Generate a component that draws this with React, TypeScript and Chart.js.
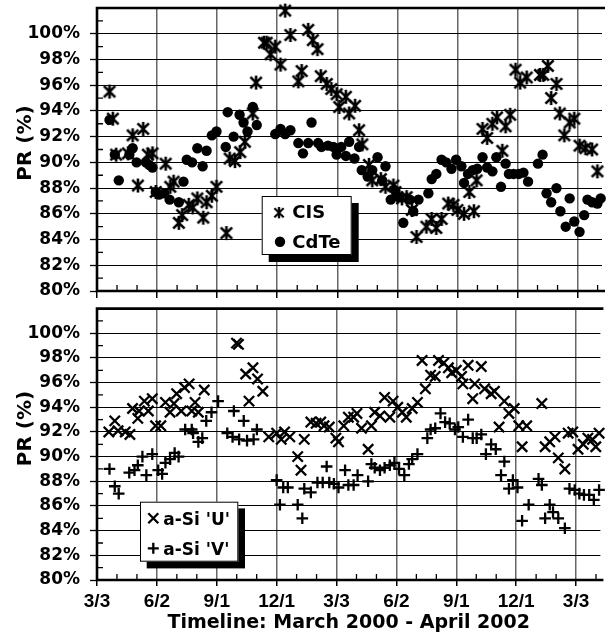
import React, { useEffect, useRef } from "react";
import { Chart, registerables } from "chart.js";

Chart.register(...registerables);

// ---------- axis / labels ----------
const xTickDays = [0, 91, 182, 273, 364, 455, 546, 637, 728];
const xTickLabels = ["3/3", "6/2", "9/1", "12/1", "3/3", "6/2", "9/1", "12/1", "3/3"];
const xMax = 765;
const yMin = 80;
const yMax = 102;
const yStep = 2;
const xTitle = "Timeline: March 2000 - April 2002";
const yTitle = "PR (%)";

// ---------- top panel ----------
const cisDays = [19, 24, 29, 47, 54, 62, 70, 77, 84, 89, 104, 111, 116, 124, 129, 139, 145, 152, 161, 166, 174, 181, 196, 201, 209, 217, 224, 236, 241, 253, 257, 263, 270, 278, 285, 293, 305, 310, 320, 327, 334, 339, 348, 355, 363, 367, 377, 382, 391, 397, 402, 412, 417, 430, 437, 449, 452, 462, 469, 477, 484, 499, 507, 514, 522, 532, 540, 546, 556, 564, 571, 575, 584, 591, 599, 606, 614, 619, 626, 634, 641, 651, 671, 676, 683, 688, 696, 701, 708, 716, 723, 731, 740, 750, 758];
const cisPR = [95.5, 93.4, 90.6, 90.7, 92.1, 88.2, 92.6, 90.6, 90.7, 87.7, 89.9, 88.1, 88.5, 85.3, 85.9, 86.7, 86.5, 87.2, 85.7, 86.9, 87.4, 88.1, 84.5, 90.3, 90.1, 90.8, 91.6, 93.8, 96.2, 99.3, 99.3, 98.4, 99.0, 97.6, 101.8, 99.9, 96.3, 97.1, 100.3, 99.5, 98.8, 96.7, 96.1, 95.7, 95.3, 94.3, 95.1, 93.8, 94.4, 92.5, 91.4, 89.8, 88.6, 88.7, 88.1, 88.2, 87.7, 87.2, 87.3, 86.3, 84.2, 85.0, 85.6, 84.9, 85.6, 86.8, 86.7, 86.3, 86.0, 87.7, 86.2, 88.6, 92.6, 91.9, 93.0, 93.5, 90.9, 92.8, 93.7, 97.2, 96.2, 96.6, 96.8, 96.8, 97.5, 95.0, 96.1, 93.8, 92.1, 93.1, 93.4, 91.3, 91.1, 91.0, 89.3];

const cdteDays = [19, 27, 33, 49, 54, 60, 74, 79, 84, 89, 94, 102, 110, 124, 131, 136, 144, 152, 160, 166, 174, 181, 195, 198, 207, 216, 222, 228, 236, 242, 270, 278, 285, 293, 305, 312, 320, 325, 335, 340, 350, 358, 363, 370, 377, 382, 390, 397, 401, 410, 417, 425, 432, 437, 445, 452, 457, 464, 474, 479, 487, 502, 507, 514, 522, 529, 537, 544, 552, 556, 562, 569, 576, 584, 591, 599, 605, 612, 619, 624, 631, 639, 646, 653, 668, 675, 681, 688, 696, 702, 710, 716, 723, 731, 738, 743, 750, 758, 763];
const cdtePR = [93.3, 90.6, 88.6, 90.6, 91.1, 90.0, 90.0, 89.8, 89.6, 87.7, 87.5, 87.6, 87.1, 86.9, 88.5, 90.2, 90.0, 91.1, 89.7, 90.9, 92.1, 92.4, 91.2, 93.9, 92.0, 93.7, 93.1, 92.4, 94.3, 92.9, 92.2, 92.6, 92.2, 92.5, 91.5, 90.7, 91.5, 93.1, 91.5, 91.2, 91.3, 91.2, 90.6, 91.2, 90.5, 91.6, 90.3, 91.2, 89.4, 88.9, 89.4, 90.4, 88.6, 89.7, 87.1, 87.8, 87.3, 85.3, 87.1, 86.2, 87.1, 87.6, 88.7, 89.1, 90.2, 90.0, 89.5, 90.2, 89.7, 88.4, 89.1, 89.4, 89.5, 90.4, 89.6, 89.3, 90.4, 88.1, 89.9, 89.1, 89.1, 89.1, 89.2, 88.5, 89.9, 90.6, 87.6, 86.9, 88.0, 86.2, 85.0, 87.2, 85.4, 84.6, 85.9, 87.1, 86.9, 86.8, 87.2];

// ---------- bottom panel ----------
const asiUDays = [18, 27, 32, 43, 50, 54, 62, 64, 72, 78, 84, 89, 97, 104, 111, 117, 121, 128, 133, 140, 144, 149, 154, 163, 212, 215, 226, 231, 237, 244, 252, 261, 273, 280, 285, 293, 305, 310, 315, 325, 333, 340, 345, 353, 363, 367, 375, 382, 390, 395, 402, 412, 417, 422, 430, 437, 445, 450, 457, 464, 470, 479, 487, 494, 499, 507, 514, 519, 527, 534, 539, 546, 554, 556, 564, 571, 574, 584, 589, 599, 604, 611, 619, 626, 634, 641, 646, 653, 676, 681, 688, 696, 701, 711, 716, 723, 731, 739, 746, 753, 758, 763];
const asiUPR = [92.0, 92.9, 92.1, 92.0, 91.8, 93.9, 93.1, 93.7, 94.5, 93.7, 94.7, 92.5, 92.5, 94.4, 93.6, 94.3, 95.1, 93.7, 95.6, 95.9, 93.7, 94.4, 93.6, 95.4, 99.2, 99.1, 96.7, 94.5, 97.2, 96.3, 95.3, 91.6, 91.9, 91.4, 92.0, 91.6, 90.0, 88.9, 91.4, 92.8, 92.7, 92.8, 92.5, 92.4, 91.5, 91.2, 92.5, 93.2, 93.2, 93.5, 92.3, 90.6, 92.5, 93.6, 93.3, 94.8, 93.2, 94.5, 94.0, 93.6, 93.2, 93.9, 94.4, 97.8, 95.5, 96.6, 96.5, 97.8, 97.6, 97.2, 96.8, 97.0, 96.5, 95.9, 97.4, 94.7, 95.9, 97.3, 95.5, 95.1, 95.3, 92.4, 94.5, 93.5, 93.9, 92.5, 90.8, 92.5, 94.3, 90.8, 91.2, 91.6, 89.9, 89.0, 91.9, 92.0, 90.6, 91.0, 91.5, 91.4, 90.8, 91.9];

const asiVDays = [19, 27, 33, 49, 57, 62, 69, 75, 84, 93, 99, 104, 111, 118, 124, 134, 144, 146, 154, 160, 166, 174, 184, 198, 206, 208, 216, 223, 228, 238, 243, 273, 278, 283, 290, 305, 312, 315, 325, 335, 343, 349, 353, 360, 367, 377, 382, 390, 396, 412, 417, 422, 430, 437, 445, 452, 459, 467, 474, 479, 487, 502, 507, 514, 522, 529, 536, 544, 549, 556, 564, 571, 577, 584, 591, 599, 606, 614, 619, 626, 632, 639, 646, 656, 671, 676, 681, 688, 693, 701, 711, 718, 726, 733, 740, 748, 755, 763];
const asiVPR = [89.0, 87.6, 87.0, 88.7, 88.9, 89.3, 90.0, 88.5, 90.2, 88.9, 88.6, 89.5, 89.8, 90.3, 90.0, 92.2, 92.2, 91.9, 91.2, 91.5, 92.9, 93.6, 94.5, 91.9, 91.6, 93.7, 91.4, 92.9, 91.3, 91.4, 92.2, 88.1, 86.1, 87.5, 87.5, 86.1, 85.0, 87.4, 87.1, 87.9, 87.9, 89.2, 87.9, 87.8, 87.5, 88.9, 87.7, 87.7, 88.5, 88.0, 89.4, 89.1, 88.9, 89.1, 89.3, 89.5, 89.0, 88.5, 89.4, 89.8, 90.2, 91.5, 92.2, 92.3, 93.5, 92.8, 92.7, 92.2, 92.4, 91.6, 93.0, 91.5, 91.5, 91.8, 90.2, 91.0, 90.6, 88.5, 89.6, 87.4, 88.1, 87.5, 84.8, 86.1, 88.2, 87.7, 85.0, 86.1, 85.5, 85.0, 84.2, 87.4, 87.3, 87.0, 86.9, 86.9, 86.5, 87.3];

const legendTop = ["CIS", "CdTe"];
const legendBottom = ["a-Si 'U'", "a-Si 'V'"];

const FD = '"DejaVu Sans", sans-serif';
const FL = '"Liberation Sans", Arial, sans-serif';

function pts(xs: number[], ys: number[]) {
  return xs.map((x, i) => ({ x, y: ys[i] }));
}

function makeAsterisk(): HTMLCanvasElement {
  const c = document.createElement("canvas");
  c.width = 16;
  c.height = 16;
  const g = c.getContext("2d")!;
  g.strokeStyle = "#000";
  g.lineWidth = 2.6;
  g.beginPath();
  g.moveTo(2.3, 2.3);
  g.lineTo(13.7, 13.7);
  g.moveTo(2.3, 13.7);
  g.lineTo(13.7, 2.3);
  g.moveTo(8, 1);
  g.lineTo(8, 15);
  g.stroke();
  return c;
}

function drawMarker(ctx: CanvasRenderingContext2D, kind: string, x: number, y: number, star: HTMLCanvasElement) {
  ctx.save();
  ctx.strokeStyle = "#000";
  ctx.fillStyle = "#000";
  ctx.lineWidth = 2.3;
  if (kind === "star") {
    ctx.drawImage(star, x - 6.5, y - 6.5, 13, 13);
  } else if (kind === "circle") {
    ctx.beginPath();
    ctx.arc(x, y, 5.2, 0, Math.PI * 2);
    ctx.fill();
  } else if (kind === "x") {
    ctx.beginPath();
    ctx.moveTo(x - 5, y - 5);
    ctx.lineTo(x + 5, y + 5);
    ctx.moveTo(x - 5, y + 5);
    ctx.lineTo(x + 5, y - 5);
    ctx.stroke();
  } else {
    ctx.beginPath();
    ctx.moveTo(x - 5.5, y);
    ctx.lineTo(x + 5.5, y);
    ctx.moveTo(x, y - 5.5);
    ctx.lineTo(x, y + 5.5);
    ctx.stroke();
  }
  ctx.restore();
}

type LegendCfg = {
  x: number; y: number; w: number; h: number; sh: number; size: number;
  items: { kind: string; label: string; mx: number; my: number; tx: number; ty: number }[];
};

function makeConfig(o: {
  datasets: any[];
  showX: boolean;
  padTop: number;
  xHeight: number;
  titleCY: number;
  legend: LegendCfg;
  star: HTMLCanvasElement;
}): any {
  const plugin = {
    id: "frame",
    beforeDatasetsDraw(chart: any) {
      const { ctx, chartArea: a } = chart;
      const x = chart.scales.x;
      const y = chart.scales.y;
      ctx.save();
      ctx.strokeStyle = "#000";
      ctx.lineWidth = 1.3;
      ctx.beginPath();
      for (let v = yMin + 1; v < yMax; v += 2) {
        const py = y.getPixelForValue(v);
        ctx.moveTo(a.left, py);
        ctx.lineTo(a.left + 6, py);
      }
      for (let k = 1; (k * 91) / 3 <= xMax; k++) {
        if (k % 3 === 0) continue;
        const px = x.getPixelForValue((k * 91) / 3);
        ctx.moveTo(px, a.bottom);
        ctx.lineTo(px, a.bottom - 6);
      }
      ctx.stroke();
      ctx.lineWidth = 2.6;
      ctx.beginPath();
      ctx.moveTo(a.right + 3, a.top);
      ctx.lineTo(a.left, a.top);
      ctx.lineTo(a.left, a.bottom);
      ctx.lineTo(a.right + 3, a.bottom);
      ctx.stroke();
      ctx.restore();
    },
    afterDraw(chart: any) {
      const ctx: CanvasRenderingContext2D = chart.ctx;
      ctx.save();
      ctx.fillStyle = "#000";
      ctx.font = `bold 20px ${FD}`;
      ctx.textAlign = "center";
      ctx.textBaseline = "alphabetic";
      ctx.translate(31.3, o.titleCY);
      ctx.rotate(-Math.PI / 2);
      ctx.fillText(yTitle, 0, 0);
      ctx.restore();
      const L = o.legend;
      ctx.save();
      ctx.fillStyle = "#000";
      ctx.fillRect(L.x + L.sh, L.y + L.sh, L.w, L.h);
      ctx.fillStyle = "#fff";
      ctx.fillRect(L.x, L.y, L.w, L.h);
      ctx.strokeStyle = "#000";
      ctx.lineWidth = 1;
      ctx.strokeRect(L.x + 0.5, L.y + 0.5, L.w - 1, L.h - 1);
      ctx.fillStyle = "#000";
      ctx.font = `bold ${L.size}px ${FD}`;
      ctx.textAlign = "left";
      ctx.textBaseline = "alphabetic";
      for (const it of L.items) {
        drawMarker(ctx, it.kind, it.mx, it.my, o.star);
        ctx.fillText(it.label, it.tx, it.ty);
      }
      ctx.restore();
    },
  };

  return {
    type: "scatter",
    data: { datasets: o.datasets },
    plugins: [plugin],
    options: {
      responsive: false,
      maintainAspectRatio: false,
      animation: false,
      events: [],
      layout: { padding: { top: o.padTop, left: 0, right: 0, bottom: 0 } },
      plugins: { legend: { display: false }, tooltip: { enabled: false }, title: { display: false } },
      scales: {
        x: {
          type: "linear",
          min: 0,
          max: xMax,
          afterBuildTicks: (s: any) => {
            s.ticks = xTickDays.map((v) => ({ value: v }));
          },
          afterFit: (s: any) => {
            s.height = o.xHeight;
            s.paddingLeft = 0;
            s.paddingRight = 0;
          },
          ticks: {
            display: o.showX,
            autoSkip: false,
            maxRotation: 0,
            minRotation: 0,
            padding: 4.3,
            color: "#000",
            font: { family: FL, size: 19, weight: "bold" },
            callback: (_v: any, i: number) => xTickLabels[i] ?? "",
          },
          grid: {
            color: "#666",
            lineWidth: 1.5,
            drawTicks: true,
            tickLength: o.showX ? 6 : 7,
            tickColor: "#000",
            tickWidth: 1.5,
          },
          border: { display: false },
          title: {
            display: o.showX,
            text: xTitle,
            color: "#000",
            font: { family: FD, size: 19, weight: "bold" },
            padding: { top: 0, bottom: 2.6 },
          },
        },
        y: {
          min: yMin,
          max: yMax,
          afterFit: (s: any) => {
            s.width = 97;
            s.paddingTop = 0;
            s.paddingBottom = 0;
          },
          ticks: {
            stepSize: yStep,
            color: "#000",
            padding: 10,
            font: { family: FD, size: 17, weight: "bold" },
            callback: (v: any) => (Number(v) >= yMax ? "" : `${v}%`),
          },
          grid: {
            color: "#000",
            lineWidth: 1,
            drawTicks: true,
            tickLength: 7,
            tickWidth: 1.3,
            tickColor: (c: any) => (c.tick && c.tick.value >= yMax ? "rgba(0,0,0,0)" : "#000"),
          },
          border: { display: false },
        },
      },
    },
  };
}

export default function App() {
  const topRef = useRef<HTMLCanvasElement>(null);
  const botRef = useRef<HTMLCanvasElement>(null);

  useEffect(() => {
    const star = makeAsterisk();
    const common = { showLine: false, clip: false };
    const top = new Chart(
      topRef.current!,
      makeConfig({
        star,
        showX: false,
        padTop: 7.5,
        xHeight: 8,
        titleCY: 143,
        datasets: [
          { ...common, label: legendTop[0], data: pts(cisDays, cisPR), pointStyle: star, pointRadius: 7, borderColor: "#000", backgroundColor: "#000" },
          { ...common, label: legendTop[1], data: pts(cdteDays, cdtePR), pointStyle: "circle", pointRadius: 5.2, borderWidth: 0, backgroundColor: "#000", borderColor: "#000" },
        ],
        legend: {
          x: 261.7, y: 196, w: 90, h: 59, sh: 7, size: 18,
          items: [
            { kind: "star", label: legendTop[0], mx: 279, my: 212.7, tx: 292.3, ty: 218.3 },
            { kind: "circle", label: legendTop[1], mx: 280, my: 241.7, tx: 292.3, ty: 248.3 },
          ],
        },
      })
    );
    const bot = new Chart(
      botRef.current!,
      makeConfig({
        star,
        showX: true,
        padTop: 2.7,
        xHeight: 57,
        titleCY: 129.5,
        datasets: [
          { ...common, label: legendBottom[0], data: pts(asiUDays, asiUPR), pointStyle: "crossRot", pointRadius: 7.3, borderWidth: 2.3, borderColor: "#000", backgroundColor: "#000" },
          { ...common, label: legendBottom[1], data: pts(asiVDays, asiVPR), pointStyle: "cross", pointRadius: 5.8, borderWidth: 2.3, borderColor: "#000", backgroundColor: "#000" },
        ],
        legend: {
          x: 140, y: 202.7, w: 98.3, h: 60, sh: 6.7, size: 17,
          items: [
            { kind: "x", label: legendBottom[0], mx: 153.3, my: 219.3, tx: 163.3, ty: 225.5 },
            { kind: "plus", label: legendBottom[1], mx: 153.3, my: 249.3, tx: 163.3, ty: 255.5 },
          ],
        },
      })
    );
    return () => {
      top.destroy();
      bot.destroy();
    };
  }, []);

  return (
    <div style={{ position: "absolute", left: 0, top: 0, width: 610, height: 637, overflow: "hidden", background: "#fff" }}>
      <canvas ref={topRef} width={610} height={299} style={{ position: "absolute", left: 0, top: 0, display: "block" }} />
      <canvas ref={botRef} width={610} height={338} style={{ position: "absolute", left: 0, top: 299, display: "block" }} />
    </div>
  );
}
